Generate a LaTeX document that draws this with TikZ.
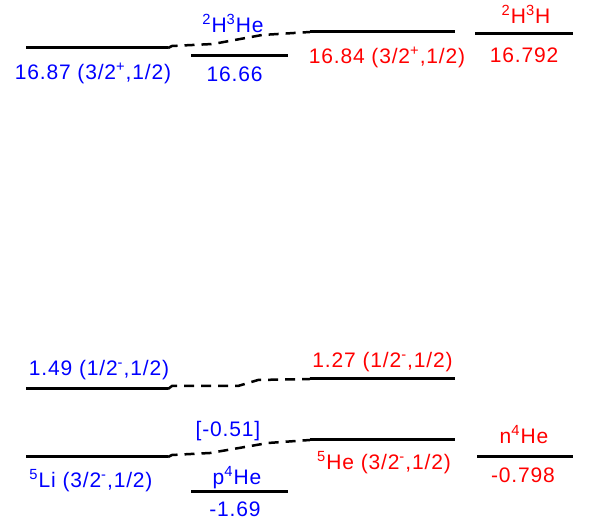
\documentclass[tikz,border=0pt]{standalone}
\usepackage{fontspec}
\setmainfont[LetterSpace=4]{Liberation Sans}
\usetikzlibrary{positioning}

% one level: name, left end, right end, height
\def\lvl#1#2#3#4{
    \path[level] (#2, #4) -- (#3, #4) coordinate[pos=0] (#1-l) coordinate[midway] (#1) coordinate[pos=1] (#1-r);
  }

\begin{document}
\begin{tikzpicture}[x=0.5pt, y=-0.5pt, font=\fontsize{10.5}{12}\selectfont,
    level/.style={draw=black, line width=1.5pt},
    link/.style={draw=black, line width=1.25pt, dash pattern=on 5pt off 3.5pt},
    lithium/.style={text=blue, inner sep=1pt, text height=8pt, text depth=2.2pt},
    helium/.style={text=red, inner sep=1pt, text height=8pt, text depth=2.2pt}]
    \useasboundingbox (0, 0) rectangle (589, 522);
    % \draw[help lines] (0, 0) grid[step=50] (589, 522);
    \lvl{liA}{26}{168}{48}
    \lvl{dhe}{191}{288}{56}
    \lvl{heA}{310}{455}{32}
    \lvl{dh}{475}{573}{34}
    \lvl{liB}{26}{168}{389}
    \lvl{heB}{310}{455}{379}
    \lvl{liC}{26}{168}{457}
    \lvl{phe}{191}{288}{492}
    \lvl{heC}{310}{455}{440}
    \lvl{nhe}{477}{573}{457}
    % mirror partners
    \path[link] (liA-r) -- ++(4, -2) -- ++(41, -2) -- ++(49, -9) -- (heA-l);
    \path[link] (liB-r) -- ++(4, -3) -- ++(66, 0) -- ++(20, -6) -- (heB-l);
    \path[link] (liC-r) -- ++(4, -2) -- ++(38, -2) -- ++(58, -10) -- (heC-l);
    % 5Li side
    \node[lithium, below=6.75pt of liA, xshift=-2pt] (liAtext) {16.87 (3/2\textsuperscript{+},1/2)};
    \node[lithium, above=3.3pt of liB, xshift=1pt] (liBtext) {1.49 (1/2\textsuperscript{-},1/2)};
    \node[lithium, below=6pt of liC, xshift=-3pt] (liCtext) {\textsuperscript{5}Li (3/2\textsuperscript{-},1/2)};
    \node[lithium, above=8.55pt of dhe, xshift=-3.25pt] (dhename) {\textsuperscript{2}H\textsuperscript{3}He};
    \node[lithium, below=3.75pt of dhe, xshift=-2.5pt] (dhetext) {16.66};
    \node[lithium] (gap) at (228, 431) {[-0.51]};
    \node[lithium, above=0.55pt of phe, xshift=-1.25pt] (phename) {p\textsuperscript{4}He};
    \node[lithium, below=3.25pt of phe, xshift=-2.25pt] (phetext) {-1.69};
    % 5He side
    \node[helium, below=6.5pt of heA, xshift=2.25pt] (heAtext) {16.84 (3/2\textsuperscript{+},1/2)};
    \node[helium, above=2.3pt of heB] (heBtext) {1.27 (1/2\textsuperscript{-},1/2)};
    \node[helium, below=5.5pt of heC, xshift=0.75pt] (heCtext) {\textsuperscript{5}He (3/2\textsuperscript{-},1/2)};
    \node[helium, above=1.8pt of dh, xshift=1pt] (dhname) {\textsuperscript{2}H\textsuperscript{3}H};
    \node[helium, below=5pt of dh] (dhtext) {16.792};
    \node[helium, above=3.55pt of nhe, xshift=-0.5pt] (nhename) {n\textsuperscript{4}He};
    \node[helium, below=3.75pt of nhe, xshift=-1pt] (nhetext) {-0.798};
  \end{tikzpicture}
\end{document}
